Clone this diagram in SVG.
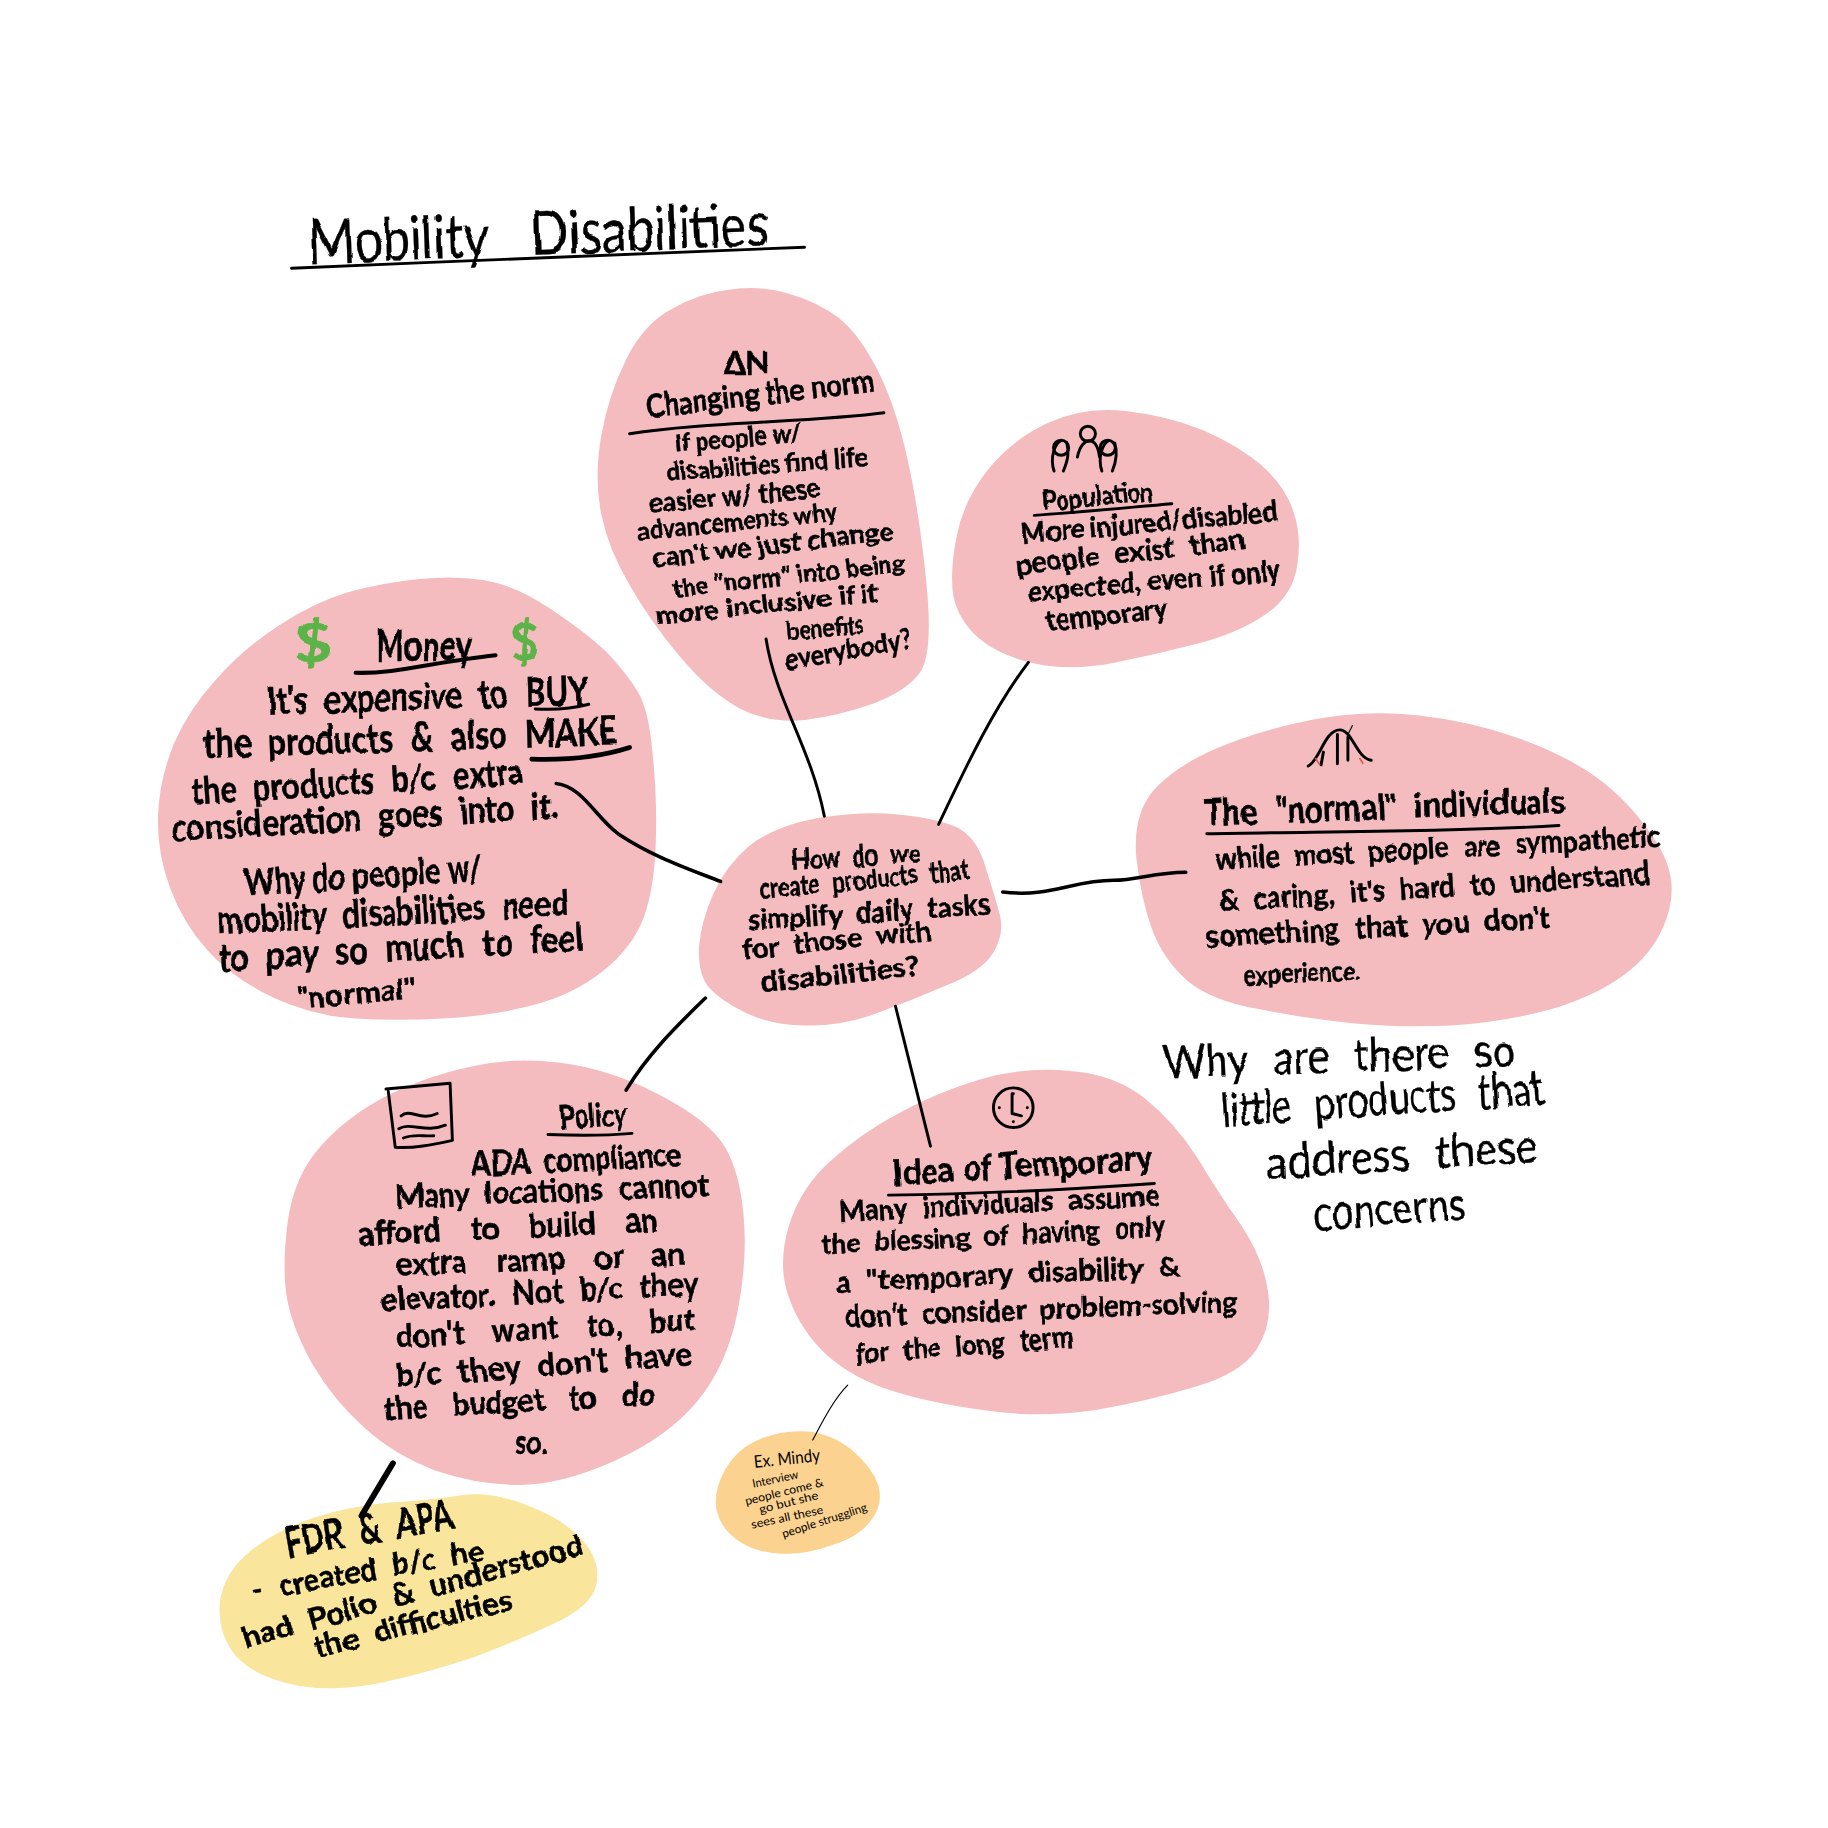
<svg xmlns="http://www.w3.org/2000/svg" width="1828" height="1828" viewBox="0 0 1828 1828">
<style>
.pink{fill:#f4bcbf;stroke:#f4bcbf;stroke-width:7;stroke-linejoin:round}
.yellow{fill:#f9e59c;stroke:#f9e59c;stroke-width:7;stroke-linejoin:round}
.orange{fill:#fbd28f;stroke:#fbd28f;stroke-width:7;stroke-linejoin:round}
text{font-family:"Lato","Liberation Sans",sans-serif;font-weight:700;fill:#000;stroke:#000;stroke-width:.45}
.ws{word-spacing:.3em}
.thin{font-weight:400;stroke-width:0}
.note{font-weight:400;stroke-width:.3;word-spacing:.35em}
.green{fill:#5cb346;stroke:#5cb346;stroke-width:.6}
.ln{fill:none;stroke:#000;stroke-linecap:round;stroke-linejoin:round;stroke-width:2.5}
.t{filter:url(#wob)}
.ic{fill:none;stroke:#000;stroke-width:2.5;stroke-linecap:round;stroke-linejoin:round}
</style>
<defs>
<filter id="wob" x="-5%" y="-5%" width="110%" height="110%">
<feTurbulence type="fractalNoise" baseFrequency="0.045" numOctaves="2" seed="4"/>
<feDisplacementMap in="SourceGraphic" scale="5" xChannelSelector="R" yChannelSelector="G"/>
</filter>
</defs>
<rect width="1828" height="1828" fill="#fff"/>
<g transform="scale(1.166)">

<g id="title">
<g class="t">
<text x="265" y="226" font-size="52" textLength="395" lengthAdjust="spacingAndGlyphs" class="note" style="word-spacing:.6em" transform="rotate(-2.2 265 226)">Mobility Disabilities</text>
</g>
<path class="ln" d="M250,230 C400,224 560,216 690,212"/>
</g>

<g id="node-norm">
<path class="pink" d="M625,252 Q650,248 675,255 Q700,262 718,276 Q735,290 750,320 Q765,350 775,395 Q785,440 791,500 Q797,560 786,575 Q775,590 748,600 Q720,610 690,614 Q660,617 635,604 Q610,590 585,560 Q560,530 543,500 Q525,470 519,440 Q513,410 519,375 Q525,340 540,310 Q555,280 578,268 Q600,255 625,252 Z"/>
<g class="t">
<text x="620" y="321" font-size="26" textLength="40" lengthAdjust="spacingAndGlyphs">ΔN</text>
<text x="555" y="358" font-size="27" textLength="197" lengthAdjust="spacingAndGlyphs" transform="rotate(-6.5 555 358)">Changing the norm</text>
<text x="580" y="388" font-size="22" textLength="108" lengthAdjust="spacingAndGlyphs" transform="rotate(-5 580 388)">If people w/</text>
<text x="572" y="413" font-size="22" textLength="173" lengthAdjust="spacingAndGlyphs" transform="rotate(-4.5 572 413)">disabilities find life</text>
<text x="557" y="439" font-size="22" textLength="148" lengthAdjust="spacingAndGlyphs" transform="rotate(-5 557 439)">easier w/ these</text>
<text x="547" y="463" font-size="22" textLength="173" lengthAdjust="spacingAndGlyphs" transform="rotate(-5.5 547 463)">advancements why</text>
<text x="560" y="487" font-size="22" textLength="208" lengthAdjust="spacingAndGlyphs" transform="rotate(-6.8 560 487)">can't we just change</text>
<text x="578" y="512" font-size="22" textLength="200" lengthAdjust="spacingAndGlyphs" transform="rotate(-6.3 578 512)">the "norm" into being</text>
<text x="563" y="536" font-size="22" textLength="192" lengthAdjust="spacingAndGlyphs" transform="rotate(-6 563 536)">more inclusive if it</text>
<text x="675" y="549" font-size="22" textLength="67" lengthAdjust="spacingAndGlyphs" transform="rotate(-5 675 549)">benefits</text>
<text x="675" y="575" font-size="24" textLength="110" lengthAdjust="spacingAndGlyphs" transform="rotate(-10 675 575)">everybody?</text>
</g>
<path class="ln" d="M540,372 C600,362 700,362 758,354"/>
</g>

<g id="node-population">
<path class="pink" d="M900,366 Q930,352 965,356 Q1000,360 1030,372 Q1060,385 1080,402 Q1100,420 1106,440 Q1113,460 1109,485 Q1105,510 1082,525 Q1060,540 1025,549 Q990,558 955,565 Q920,572 890,566 Q860,560 842,545 Q825,530 821,510 Q818,490 824,460 Q830,430 850,405 Q870,380 900,366 Z"/>
<g class="ic">
<circle cx="910" cy="384" r="6.5"/><circle cx="933" cy="372" r="6.5"/><circle cx="950" cy="384" r="6.5"/>
<path d="M904,404 C900,392 905,380 910,378 M912,404 C916,394 917,388 915,380 M924,392 C926,383 930,378 934,378 C939,378 942,384 943,392 M945,404 C941,392 946,380 951,378 M954,404 C958,394 958,386 956,380"/>
</g>
<g class="t">
<text x="895" y="438" font-size="24" textLength="95" lengthAdjust="spacingAndGlyphs" transform="rotate(-5 895 438)">Population</text>
<text x="877" y="466" font-size="24" textLength="220" lengthAdjust="spacingAndGlyphs" transform="rotate(-5 877 466)">More injured/disabled</text>
<text x="872" y="493" font-size="24" textLength="198" lengthAdjust="spacingAndGlyphs" class="ws" transform="rotate(-6.5 872 493)">people exist than</text>
<text x="882" y="516" font-size="24" textLength="218" lengthAdjust="spacingAndGlyphs" transform="rotate(-5 882 516)">expected, even if only</text>
<text x="898" y="541" font-size="24" textLength="105" lengthAdjust="spacingAndGlyphs" transform="rotate(-6 898 541)">temporary</text>
</g>
<path class="ln" d="M887,442 C930,439 970,435 1005,432"/>
</g>

<g id="node-normal">
<path class="pink" d="M1125,621 Q1170,612 1215,617 Q1260,622 1300,636 Q1340,650 1368,670 Q1395,690 1415,720 Q1436,750 1428,780 Q1420,810 1395,830 Q1370,850 1330,862 Q1290,873 1245,876 Q1200,878 1160,874 Q1120,870 1080,862 Q1040,855 1020,838 Q1000,820 991,795 Q982,770 978,735 Q975,700 992,680 Q1010,660 1045,645 Q1080,630 1125,621 Z"/>
<path class="ic" d="M1122,657 C1132,652 1136,626 1149,626 C1160,626 1163,650 1176,652 M1135,645 L1133,656 M1147,630 L1147,655 M1156,632 L1156,652"/>
<path d="M1156,630 L1160,622" stroke="#000" stroke-width="1" fill="none"/>
<path d="M1128,650 l4,6 M1166,650 l3,5" stroke="#e0524d" stroke-width="1.4" fill="none"/>
<g class="t">
<text x="1033" y="708" font-size="31" textLength="309" lengthAdjust="spacingAndGlyphs" class="ws" transform="rotate(-2 1033 708)">The "normal" individuals</text>
<text x="1043" y="746" font-size="26" textLength="382" lengthAdjust="spacingAndGlyphs" class="ws" transform="rotate(-3 1043 746)">while most people are sympathetic</text>
<text x="1046" y="782" font-size="26" textLength="370" lengthAdjust="spacingAndGlyphs" class="ws" transform="rotate(-3.7 1046 782)">&amp; caring, it's hard to understand</text>
<text x="1035" y="812" font-size="26" textLength="295" lengthAdjust="spacingAndGlyphs" class="ws" transform="rotate(-3.2 1035 812)">something that you don't</text>
<text x="1067" y="845" font-size="23" textLength="100" lengthAdjust="spacingAndGlyphs" transform="rotate(-3 1067 845)">experience.</text>
</g>
<path class="ln" d="M1035,715 C1130,713 1240,714 1337,708"/>
</g>

<g id="node-money">
<path class="pink" d="M360,500 Q390,497 415,501 Q440,505 470,525 Q500,545 518,562 Q535,580 544,595 Q553,610 556,645 Q560,680 559,720 Q558,760 549,785 Q540,810 515,830 Q490,850 455,859 Q420,868 380,870 Q340,872 305,870 Q270,868 235,852 Q200,835 180,812 Q160,790 149,760 Q138,730 139,700 Q140,670 152,640 Q165,610 188,585 Q210,560 240,540 Q270,520 300,511 Q330,503 360,500 Z"/>
<g class="t">
<text class="green" x="252" y="568" font-size="46" textLength="33" lengthAdjust="spacingAndGlyphs">$</text>
<text class="green" x="438" y="567" font-size="46" textLength="24" lengthAdjust="spacingAndGlyphs">$</text>
<text x="322" y="567" font-size="38" textLength="83" lengthAdjust="spacingAndGlyphs">Money</text>
<text x="230" y="613" font-size="34" textLength="275" lengthAdjust="spacingAndGlyphs" class="ws" transform="rotate(-1.8 230 613)">It's expensive to BUY</text>
<text x="175" y="650" font-size="34" textLength="355" lengthAdjust="spacingAndGlyphs" class="ws" transform="rotate(-1.8 175 650)">the products &amp; also MAKE</text>
<text x="165" y="690" font-size="32" textLength="285" lengthAdjust="spacingAndGlyphs" class="ws" transform="rotate(-3.5 165 690)">the products b/c extra</text>
<text x="148" y="722" font-size="32" textLength="332" lengthAdjust="spacingAndGlyphs" class="ws" transform="rotate(-3.5 148 722)">consideration goes into it.</text>
<text x="210" y="768" font-size="32" textLength="205" lengthAdjust="spacingAndGlyphs" transform="rotate(-3.5 210 768)">Why do people w/</text>
<text x="187" y="801" font-size="32" textLength="301" lengthAdjust="spacingAndGlyphs" class="ws" transform="rotate(-3 187 801)">mobility disabilities need</text>
<text x="188" y="833" font-size="32" textLength="314" lengthAdjust="spacingAndGlyphs" class="ws" transform="rotate(-3.3 188 833)">to pay so much to feel</text>
<text x="255" y="865" font-size="25" textLength="103" lengthAdjust="spacingAndGlyphs" transform="rotate(-5 255 865)">"normal"</text>
</g>
<path class="ln" style="stroke-width:3.5" d="M305,577 C340,578 370,568 425,562"/>
<path class="ln" d="M459,608 C475,609 490,608 505,604"/>
<path class="ln" style="stroke-width:4" d="M456,651 C485,652 515,649 540,641"/>
</g>

<g id="node-center">
<path class="pink" d="M702,705 Q740,699 770,702 Q800,705 818,712 Q835,720 842,745 Q850,770 854,785 Q858,800 849,815 Q840,830 810,842 Q780,855 750,866 Q720,877 690,876 Q660,875 640,865 Q620,855 611,845 Q602,835 603,812 Q605,790 615,768 Q625,745 645,728 Q665,712 702,705 Z"/>
<g class="t">
<text x="680" y="746" font-size="24" textLength="110" lengthAdjust="spacingAndGlyphs" class="ws" transform="rotate(-3.5 680 746)">How do we</text>
<text x="652" y="771" font-size="24" textLength="181" lengthAdjust="spacingAndGlyphs" class="ws" transform="rotate(-5.5 652 771)">create products that</text>
<text x="642" y="798" font-size="24" textLength="208" lengthAdjust="spacingAndGlyphs" class="ws" transform="rotate(-4 642 798)">simplify daily tasks</text>
<text x="638" y="823" font-size="24" textLength="162" lengthAdjust="spacingAndGlyphs" class="ws" transform="rotate(-6 638 823)">for those with</text>
<text x="653" y="851" font-size="24" textLength="137" lengthAdjust="spacingAndGlyphs" transform="rotate(-6 653 851)">disabilities?</text>
</g>
</g>

<g id="node-policy">
<path class="pink" d="M405,918 Q440,910 480,915 Q520,920 560,940 Q600,960 615,980 Q630,1000 634,1040 Q638,1080 629,1125 Q620,1170 595,1200 Q570,1230 525,1250 Q480,1270 445,1270 Q410,1270 375,1258 Q340,1245 315,1222 Q290,1200 272,1170 Q255,1140 250,1115 Q245,1090 250,1050 Q255,1010 278,985 Q300,960 335,942 Q370,925 405,918 Z"/>
<path class="ic" d="M331,934 L386,929 L388,978 C370,982 355,985 339,984 L333,936 M344,957 C352,950 360,962 375,955 M342,968 C352,962 365,972 382,965 M346,976 C355,972 365,975 372,974"/>
<g class="t">
<text x="480" y="968" font-size="28" textLength="58" lengthAdjust="spacingAndGlyphs" transform="rotate(-3 480 968)">Policy</text>
<text x="405" y="1008" font-size="28" textLength="180" lengthAdjust="spacingAndGlyphs" class="ws" transform="rotate(-2.5 405 1008)">ADA compliance</text>
<text x="340" y="1036" font-size="28" textLength="268" lengthAdjust="spacingAndGlyphs" class="ws" transform="rotate(-2.2 340 1036)">Many locations cannot</text>
<text x="308" y="1068" font-size="28" textLength="257" lengthAdjust="spacingAndGlyphs" style="word-spacing:.7em" transform="rotate(-2.7 308 1068)">afford to build an</text>
<text x="340" y="1094" font-size="28" textLength="248" lengthAdjust="spacingAndGlyphs" style="word-spacing:.7em" transform="rotate(-2 340 1094)">extra ramp or an</text>
<text x="327" y="1125" font-size="28" textLength="273" lengthAdjust="spacingAndGlyphs" class="ws" transform="rotate(-3.1 327 1125)">elevator. Not b/c they</text>
<text x="340" y="1156" font-size="28" textLength="257" lengthAdjust="spacingAndGlyphs" style="word-spacing:.7em" transform="rotate(-3.3 340 1156)">don't want to, but</text>
<text x="340" y="1190" font-size="28" textLength="255" lengthAdjust="spacingAndGlyphs" class="ws" transform="rotate(-4.5 340 1190)">b/c they don't have</text>
<text x="330" y="1218" font-size="28" textLength="233" lengthAdjust="spacingAndGlyphs" style="word-spacing:.6em" transform="rotate(-3.2 330 1218)">the budget to do</text>
<text x="442" y="1247" font-size="28" textLength="28" lengthAdjust="spacingAndGlyphs">so.</text>
</g>
<path class="ln" d="M470,973 C495,974 520,974 542,972"/>
</g>

<g id="node-temporary">
<path class="pink" d="M842,929 Q880,918 918,922 Q955,925 980,945 Q1005,965 1024,995 Q1042,1025 1061,1052 Q1080,1080 1084,1108 Q1088,1135 1075,1155 Q1062,1175 1024,1186 Q985,1198 938,1206 Q890,1213 845,1206 Q800,1200 768,1190 Q735,1180 712,1160 Q690,1140 680,1112 Q670,1085 680,1052 Q690,1020 715,998 Q740,975 772,958 Q805,940 842,929 Z"/>
<g class="ic">
<circle cx="869" cy="950" r="17"/>
<path d="M868,938 L868,955 L876,957 M869,938 h.1 M881,950 h.1 M869,962 h.1 M857,950 h.1"/>
</g>
<g class="t">
<text x="767" y="1017" font-size="31" textLength="223" lengthAdjust="spacingAndGlyphs" transform="rotate(-3.5 767 1017)">Idea of Temporary</text>
<text x="720" y="1048" font-size="25" textLength="275" lengthAdjust="spacingAndGlyphs" class="ws" transform="rotate(-3 720 1048)">Many individuals assume</text>
<text x="705" y="1076" font-size="25" textLength="295" lengthAdjust="spacingAndGlyphs" class="ws" transform="rotate(-3 705 1076)">the blessing of having only</text>
<text x="718" y="1108" font-size="25" textLength="294" lengthAdjust="spacingAndGlyphs" class="ws" transform="rotate(-2.6 718 1108)">a "temporary disability &amp;</text>
<text x="725" y="1138" font-size="25" textLength="337" lengthAdjust="spacingAndGlyphs" class="ws" transform="rotate(-2.2 725 1138)">don't consider problem-solving</text>
<text x="735" y="1170" font-size="25" textLength="187" lengthAdjust="spacingAndGlyphs" class="ws" transform="rotate(-4.5 735 1170)">for the long term</text>
</g>
<path class="ln" d="M762,1025 C840,1024 920,1020 990,1015"/>
</g>

<g id="node-fdr">
<path class="yellow" d="M335,1292 Q370,1290 395,1286 Q420,1282 450,1294 Q480,1305 496,1322 Q512,1340 508,1358 Q505,1375 472,1390 Q440,1405 405,1418 Q370,1430 330,1439 Q290,1448 255,1442 Q220,1435 205,1418 Q190,1400 192,1375 Q195,1350 218,1332 Q240,1315 270,1305 Q300,1295 335,1292 Z"/>
<g class="t">
<text x="247" y="1336" font-size="36" textLength="146" lengthAdjust="spacingAndGlyphs" class="ws" transform="rotate(-10 247 1336)">FDR &amp; APA</text>
<text x="217" y="1373" font-size="26" textLength="202" lengthAdjust="spacingAndGlyphs" class="ws" transform="rotate(-10 217 1373)">- created b/c he</text>
<text x="211" y="1414" font-size="26" textLength="302" lengthAdjust="spacingAndGlyphs" class="ws" transform="rotate(-15.5 211 1414)">had Polio &amp; understood</text>
<text x="272" y="1422" font-size="26" textLength="174" lengthAdjust="spacingAndGlyphs" class="ws" transform="rotate(-14 272 1422)">the difficulties</text>
</g>
</g>

<g id="node-mindy">
<path class="orange" d="M652,1238 Q670,1230 690,1231 Q710,1232 728,1246 Q745,1260 750,1275 Q754,1290 744,1302 Q735,1315 712,1322 Q690,1330 670,1329 Q650,1328 636,1319 Q622,1310 618,1295 Q615,1280 625,1262 Q635,1245 652,1238 Z"/>
<text class="thin" x="647" y="1259" font-size="15" textLength="57" lengthAdjust="spacingAndGlyphs" transform="rotate(-6 647 1259)">Ex. Mindy</text>
<text class="thin" x="646" y="1276" font-size="10" textLength="40" lengthAdjust="spacingAndGlyphs" transform="rotate(-12 646 1276)">Interview</text>
<text class="thin" x="640" y="1291" font-size="10" textLength="69" lengthAdjust="spacingAndGlyphs" transform="rotate(-14 640 1291)">people come &amp;</text>
<text class="thin" x="652" y="1298" font-size="10" textLength="52" lengthAdjust="spacingAndGlyphs" transform="rotate(-14 652 1298)">go but she</text>
<text class="thin" x="645" y="1311" font-size="10" textLength="63" lengthAdjust="spacingAndGlyphs" transform="rotate(-12 645 1311)">sees all these</text>
<text class="thin" x="672" y="1319" font-size="10" textLength="76" lengthAdjust="spacingAndGlyphs" transform="rotate(-18 672 1319)">people struggling</text>
</g>

<g id="note-question" class="t">
<text class="note" x="998" y="925" font-size="40" textLength="302" lengthAdjust="spacingAndGlyphs" transform="rotate(-2 998 925)">Why are there so</text>
<text class="note" x="1048" y="966" font-size="40" textLength="277" lengthAdjust="spacingAndGlyphs" transform="rotate(-4 1048 966)">little products that</text>
<text class="note" x="1087" y="1011" font-size="40" textLength="233" lengthAdjust="spacingAndGlyphs" transform="rotate(-3.6 1087 1011)">address these</text>
<text class="note" x="1127" y="1055" font-size="40" textLength="131" lengthAdjust="spacingAndGlyphs" transform="rotate(-4 1127 1055)">concerns</text>
</g>

<g id="connectors">
<path class="ln" d="M657,548 C665,600 695,640 707,700"/>
<path class="ln" d="M882,568 C850,610 825,665 805,707"/>
<path class="ln" style="stroke-width:3" d="M860,765 C900,770 920,755 955,755 C975,755 990,748 1017,748"/>
<path class="ln" style="stroke-width:3" d="M477,672 C500,675 510,700 530,715 C560,735 590,745 618,756"/>
<path class="ln" style="stroke-width:3" d="M605,856 C580,880 555,905 537,935"/>
<path class="ln" d="M768,863 L798,983"/>
<path class="ln" style="stroke-width:5" d="M337,1255 L310,1300"/>
<path class="ln" style="stroke-width:1" d="M727,1188 C715,1200 705,1220 697,1235"/>
</g>
</g>
</svg>
